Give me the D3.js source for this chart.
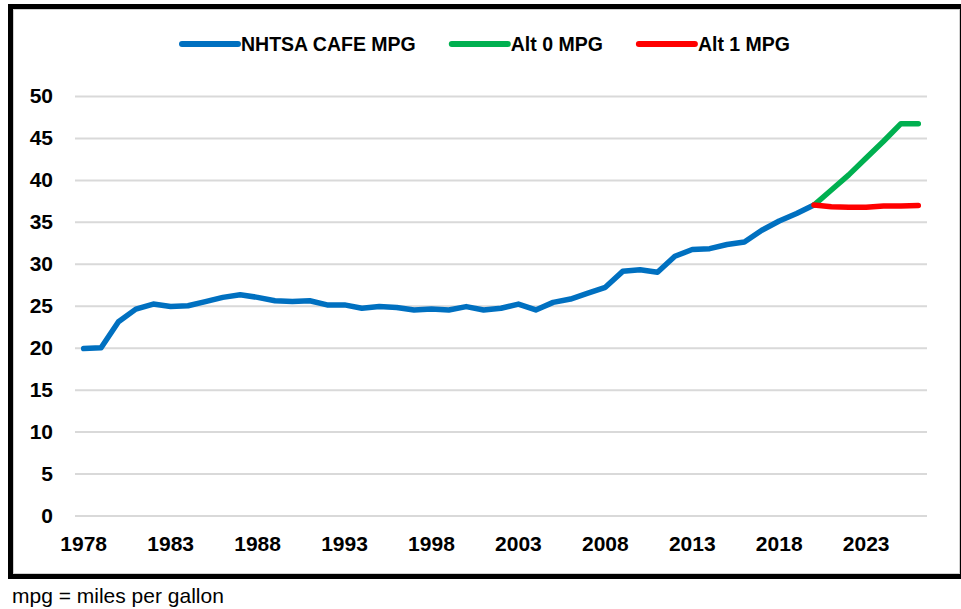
<!DOCTYPE html>
<html>
<head>
<meta charset="utf-8">
<script src="https://cdn.jsdelivr.net/npm/d3@7"></script>
<style>
  body { margin: 0; background: #fff; }
  svg { display: block; font-family: "Liberation Sans", Arial, sans-serif; }
</style>
</head>
<body>
<div id="chart"></div>
<script>
// categories
years = [1978, 1979, 1980, 1981, 1982, 1983, 1984, 1985, 1986, 1987,
         1988, 1989, 1990, 1991, 1992, 1993, 1994, 1995, 1996, 1997,
         1998, 1999, 2000, 2001, 2002, 2003, 2004, 2005, 2006, 2007,
         2008, 2009, 2010, 2011, 2012, 2013, 2014, 2015, 2016, 2017,
         2018, 2019, 2020, 2021, 2022, 2023, 2024, 2025, 2026]
xTickYears = [1978, 1983, 1988, 1993, 1998, 2003, 2008, 2013, 2018, 2023]
yTicks = [0, 5, 10, 15, 20, 25, 30, 35, 40, 45, 50]

// series values (1978-2020 for CAFE, 2020-2026 for the alternatives)
cafeMpg = [19.9, 20.0, 23.1, 24.6, 25.2, 24.9, 25.0, 25.5, 26.0, 26.3,
           26.0, 25.6, 25.5, 25.6, 25.1, 25.1, 24.7, 24.9, 24.8, 24.5,
           24.6, 24.5, 24.9, 24.5, 24.7, 25.2, 24.5, 25.4, 25.8, 26.5,
           27.2, 29.1, 29.3, 29.0, 30.9, 31.7, 31.8, 32.3, 32.6, 34.0,
           35.1, 36.0, 37.0]
alt0Mpg = [37.0, 38.8, 40.6, 42.6, 44.6, 46.7, 46.7]
alt1Mpg = [37.0, 36.8, 36.75, 36.75, 36.9, 36.9, 36.95]

seriesNames = ["NHTSA CAFE MPG", "Alt 0 MPG", "Alt 1 MPG"]
color = ["#0070C0", "#00B050", "#FF0000"]
footnote = "mpg = miles per gallon"

width = 961
height = 609
plot = ({left: 75, right: 927, top: 96, bottom: 515.5})

cafeYears = years.slice(0, cafeMpg.length)
altYears = years.slice(years.length - alt0Mpg.length)
series = [
    cafeYears.map((y, i) => [y, cafeMpg[i]]),
    altYears.map((y, i) => [y, alt0Mpg[i]]),
    altYears.map((y, i) => [y, alt1Mpg[i]])
]

var svg = d3.select("#chart").append("svg")
    .attr("width", width)
    .attr("height", height)

x = d3.scaleBand()
    .domain(years)
    .range([plot.left, plot.right])
    .padding(0)
xc = d => x(d) + x.bandwidth() / 2

y = d3.scaleLinear()
    .domain([0, 50])
    .range([plot.bottom, plot.top])

// frame
svg.append("rect")
    .attr("x", 10.5).attr("y", 6.5)
    .attr("width", 951).attr("height", 570)
    .attr("fill", "#fff")
    .attr("stroke", "#000")
    .attr("stroke-width", 5)
svg.append("rect")
    .attr("x", 13.5).attr("y", 9.5)
    .attr("width", 946).attr("height", 564)
    .attr("fill", "none")
    .attr("stroke", "#d0d0d0")
    .attr("stroke-width", 1)

// gridlines + y labels
yAxis = d3.axisLeft(y)
    .tickValues(yTicks)
    .tickSize(-(plot.right - plot.left))
    .tickPadding(22)
    .tickFormat(d3.format("d"))

svg.append("g")
    .attr("transform", `translate(${plot.left},0)`)
    .call(yAxis)
    .call(g => g.select(".domain").remove())
    .call(g => g.selectAll("line").attr("stroke", "#d9d9d9").attr("stroke-width", 2))
    .call(g => g.selectAll("text")
        .attr("fill", "#000")
        .style("font", "bold 21px 'Liberation Sans', Arial, sans-serif"))

// x labels
xAxis = d3.axisBottom(x)
    .tickValues(xTickYears)
    .tickSize(0)
    .tickPadding(21)

svg.append("g")
    .attr("transform", `translate(0,${plot.bottom})`)
    .call(xAxis)
    .call(g => g.select(".domain").remove())
    .call(g => g.selectAll("text")
        .attr("fill", "#000")
        .style("font", "bold 21px 'Liberation Sans', Arial, sans-serif"))

// lines
line = d3.line()
    .x(d => xc(d[0]))
    .y(d => y(d[1]))

svg.append("g")
    .selectAll("path")
    .data(series)
    .enter().append("path")
    .attr("d", line)
    .attr("fill", "none")
    .attr("stroke", (d, i) => color[i])
    .attr("stroke-width", 5.5)
    .attr("stroke-linejoin", "round")
    .attr("stroke-linecap", "round")

// legend
legendLine = 56
legendGap = 3
legendSpacing = 36
var legend = svg.append("g")
    .attr("transform", "translate(182,44)")
var lx = 0
seriesNames.forEach((name, i) => {
    const entry = legend.append("g").attr("transform", `translate(${lx},0)`)
    entry.append("line")
        .attr("x1", 0).attr("x2", legendLine)
        .attr("stroke", color[i])
        .attr("stroke-width", 6)
        .attr("stroke-linecap", "round")
    const t = entry.append("text")
        .text(name)
        .attr("x", legendLine + legendGap)
        .attr("dy", "0.35em")
        .style("font", "bold 19.5px 'Liberation Sans', Arial, sans-serif")
        .attr("fill", "#000")
    lx += legendLine + legendGap + t.node().getComputedTextLength() + legendSpacing
})

// footnote
svg.append("text")
    .attr("x", 12)
    .attr("y", 603)
    .text(footnote)
    .style("font", "21px 'Liberation Sans', Arial, sans-serif")
    .attr("fill", "#000")
</script>
</body>
</html>
